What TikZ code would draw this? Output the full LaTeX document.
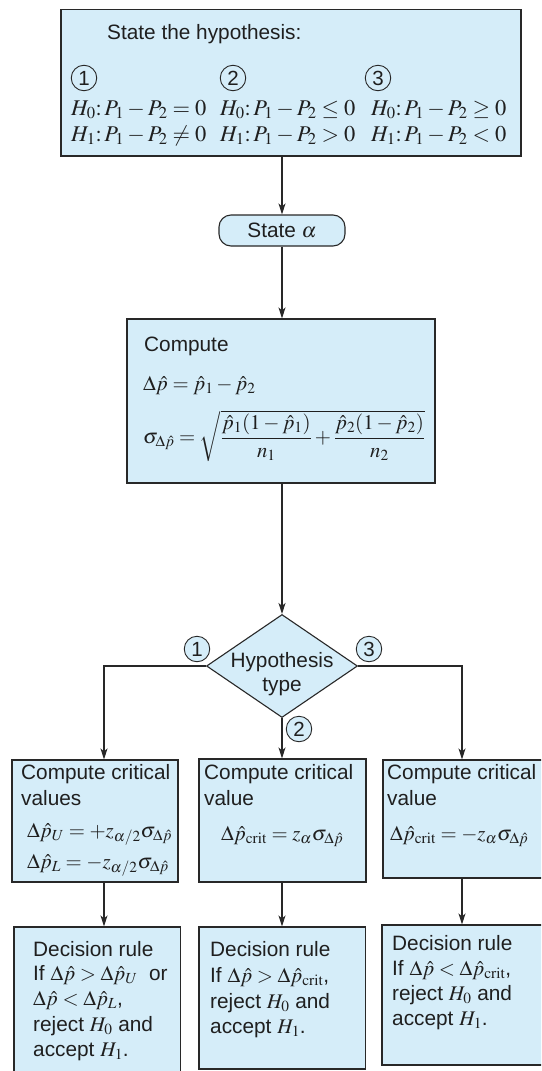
\documentclass[tikz,border=0pt]{standalone}
\usepackage{amsmath}
\usepackage{mathptmx}
\usepackage[no-math]{fontspec}
\setmainfont{Liberation Sans}
\usetikzlibrary{shapes.geometric,arrows.meta}
\definecolor{boxfill}{RGB}{213,237,249}
\definecolor{edge}{RGB}{40,40,40}
\begin{document}
\begin{tikzpicture}[x=1pt,y=-1pt,
  box/.style={draw=edge, fill=boxfill, line width=1.1pt, inner sep=0pt},
  txt/.style={font=\fontsize{20.8}{25}\selectfont, inner sep=0pt, anchor=base west, text=black!88},
  hrow/.style={font=\fontsize{22.5}{25}\selectfont, inner sep=0pt, anchor=base west, text=black!88},
  num/.style={circle, draw=edge, line width=0.9pt, minimum size=25.5pt, inner sep=0pt, font=\fontsize{20.5}{20.5}\selectfont, text=black!88},
  arr/.style={draw=edge, line width=1.2pt, -{Stealth[length=11pt,width=7pt,inset=3pt]}},
  ]
\useasboundingbox (0,0) rectangle (541,1071);
\clip (0,0) rectangle (541,1071);
\fill[white] (0,0) rectangle (541,1071);
% boxes
\node[box, minimum width=460pt, minimum height=146.5pt] (top) at (291,82.75) {};
\node[box, rounded corners=12pt, minimum width=126pt, minimum height=31pt, font=\fontsize{20.8}{25}\selectfont, text=black!88] (pill) at (282,230.5) {State $\alpha$};
\node[box, minimum width=308pt, minimum height=164pt] (comp) at (281,401) {};
\node[box, diamond, minimum width=151pt, minimum height=103pt] (dia) at (282,666) {};
\node[box, minimum width=166pt, minimum height=122pt] (b1) at (95,821) {};
\node[box, minimum width=167pt, minimum height=123pt] (b2) at (282.5,820.5) {};
\node[box, minimum width=164pt, minimum height=118pt] (b3) at (465,819) {};
\node[box, minimum width=166.5pt, minimum height=148pt] (d1) at (97.25,1001) {};
\node[box, minimum width=166.5pt, minimum height=142pt] (d2) at (282.25,998) {};
\node[box, minimum width=164pt, minimum height=140pt] (d3) at (464,995) {};
% column coordinates
\coordinate (k1) at (104,0);
\coordinate (k2) at (282,0);
\coordinate (k3) at (462,0);
% connectors
\draw[arr] (top.south -| k2) -- (pill.north -| k2);
\draw[arr] (pill.south -| k2) -- (comp.north -| k2);
\draw[arr] (comp.south -| k2) -- (dia.north);
\draw[arr] (dia.west) -| (b1.north -| k1);
\draw[arr] (dia.east) -| (b3.north -| k3);
\draw[arr] (dia.south) -- (b2.north -| dia.south);
\draw[arr] (b1.south -| k1) -- (d1.north -| k1);
\draw[arr] (b2.south -| k2) -- (d2.north -| k2);
\draw[arr] (b3.south -| k3) -- (d3.north -| k3);
% top box text
\node[txt] (hyp) at (107,39) {State the hypothesis:};
\node[num] (n1) at (84,78) {1};
\node[num] (n2) at (233,78) {2};
\node[num] (n3) at (378,78) {3};
\node[hrow] (h01) at (71,115) {$H_0{:}\,P_1-P_2=0$};
\node[hrow] (h11) at (71,141) {$H_1{:}\,P_1-P_2\neq0$};
\node[hrow] (h02) at (220,115) {$H_0{:}\,P_1-P_2\leq0$};
\node[hrow] (h12) at (220,141) {$H_1{:}\,P_1-P_2>0$};
\node[hrow] (h03) at (371,115) {$H_0{:}\,P_1-P_2\geq0$};
\node[hrow] (h13) at (371,141) {$H_1{:}\,P_1-P_2<0$};
% compute box text
\node[txt] (ct) at (144,351) {Compute};
\node[txt] (dp) at (143,390) {$\Delta\hat p=\hat p_1-\hat p_2$};
\node[txt, anchor=west] (sg) at (143,436) {$\sigma_{\Delta\hat p}=\sqrt{\dfrac{\hat p_1(1-\hat p_1)}{n_1}+\dfrac{\hat p_2(1-\hat p_2)}{n_2}}$};
% diamond
\node[font=\fontsize{20.8}{24}\selectfont, align=center, inner sep=0pt, text=black!88] (dtx) at (282,674) {Hypothesis\\type};
\node[num, fill=boxfill] (m1) at (197,649) {1};
\node[num, fill=boxfill] (m3) at (369,649) {3};
\node[num, fill=boxfill] (m2) at (299,729) {2};
% critical boxes
\node[txt] (b1a) at (21,779) {Compute critical};
\node[txt] (b1b) at (21,805) {values};
\node[txt] (b1c) at (27,837) {$\Delta\hat p_U= +z_{\alpha/2}\sigma_{\Delta\hat p}$};
\node[txt] (b1d) at (27,868) {$\Delta\hat p_L= -z_{\alpha/2}\sigma_{\Delta\hat p}$};
\node[txt] (b2a) at (204,779) {Compute critical};
\node[txt] (b2b) at (204,805) {value};
\node[txt] (b2c) at (221,840) {$\Delta\hat p_{\mathrm{crit}}=z_\alpha\sigma_{\Delta\hat p}$};
\node[txt] (b3a) at (387,779) {Compute critical};
\node[txt] (b3b) at (387,805) {value};
\node[txt] (b3c) at (390,840) {$\Delta\hat p_{\mathrm{crit}}= -z_\alpha\sigma_{\Delta\hat p}$};
% decision boxes
\node[txt] (d1a) at (33,956) {Decision rule};
\node[txt] (d1b) at (33,980) {If $\Delta\hat p>\Delta\hat p_U$\ \ or};
\node[txt] (d1c) at (33,1005) {$\Delta\hat p<\Delta\hat p_L$,};
\node[txt] (d1d) at (33,1031) {reject $H_0$ and};
\node[txt] (d1e) at (33,1056) {accept $H_1$.};
\node[txt] (d2a) at (210,956) {Decision rule};
\node[txt] (d2b) at (210,982) {If $\Delta\hat p>\Delta\hat p_{\mathrm{crit}}$,};
\node[txt] (d2c) at (210,1008) {reject $H_0$ and};
\node[txt] (d2d) at (210,1033) {accept $H_1$.};
\node[txt] (d3a) at (392,950) {Decision rule};
\node[txt] (d3b) at (392,975) {If $\Delta\hat p<\Delta\hat p_{\mathrm{crit}}$,};
\node[txt] (d3c) at (392,1000) {reject $H_0$ and};
\node[txt] (d3d) at (392,1025) {accept $H_1$.};
\end{tikzpicture}
\end{document}
